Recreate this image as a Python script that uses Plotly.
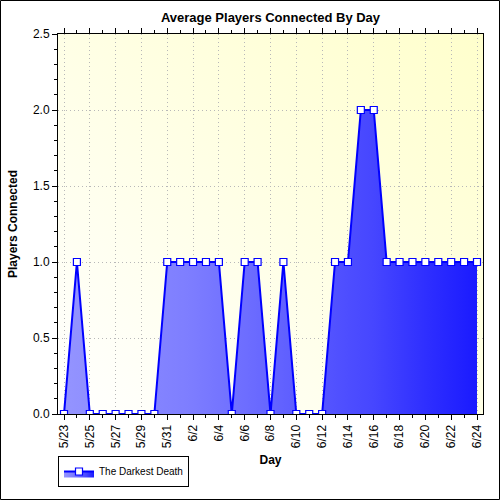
import base64
import plotly.graph_objects as go

days = ["2010-05-23", "2010-05-24", "2010-05-25", "2010-05-26", "2010-05-27", "2010-05-28",
        "2010-05-29", "2010-05-30", "2010-05-31", "2010-06-01", "2010-06-02", "2010-06-03",
        "2010-06-04", "2010-06-05", "2010-06-06", "2010-06-07", "2010-06-08", "2010-06-09",
        "2010-06-10", "2010-06-11", "2010-06-12", "2010-06-13", "2010-06-14", "2010-06-15",
        "2010-06-16", "2010-06-17", "2010-06-18", "2010-06-19", "2010-06-20", "2010-06-21",
        "2010-06-22", "2010-06-23", "2010-06-24"]
players = [0, 1, 0, 0, 0, 0, 0, 0, 1, 1, 1, 1, 1, 0, 1, 1, 0, 1, 0, 0, 0, 1, 1, 2, 2,
           1, 1, 1, 1, 1, 1, 1, 1]
series_name = "The Darkest Death"

FONT = "Liberation Sans, Arial, sans-serif"
xrange = ["2010-05-22 12:50", "2010-06-24 11:10"]
yrange = [0, 2.5]
DAY = 86400000

fill_scale = [[0, "#9494ff"], [0.3, "#7e7eff"], [0.45, "#6c6cff"], [0.6, "#5858ff"],
              [0.75, "#4646ff"], [0.88, "#2e2eff"], [1, "#1a1aff"]]

svg = ('<svg xmlns="http://www.w3.org/2000/svg" width="100" height="100" preserveAspectRatio="none">'
       '<defs><linearGradient id="g" x1="0" y1="1" x2="1" y2="0">'
       '<stop offset="0" stop-color="#ffffff"/><stop offset="1" stop-color="#ffffcc"/>'
       '</linearGradient></defs><rect width="100" height="100" fill="url(#g)"/></svg>')
bg_uri = "data:image/svg+xml;base64," + base64.b64encode(svg.encode()).decode()

fig = go.Figure()
fig.add_trace(go.Scatter(
    x=days, y=players, name=series_name, mode="lines+markers",
    fill="tozeroy",
    fillgradient=dict(type="horizontal", colorscale=fill_scale),
    line=dict(color="#0000ff", width=2),
    marker=dict(symbol="square", size=7, color="white", line=dict(color="#0000ff", width=1.2)),
))

GRID_DASH = "1px,3px"

fig.update_layout(
    width=500, height=500,
    margin=dict(l=58, r=17, t=34, b=86),
    paper_bgcolor="white",
    plot_bgcolor="rgba(0,0,0,0)",
    font=dict(family=FONT, size=12, color="black"),
    title=dict(text="<b>Average Players Connected By Day</b>", x=0.541, xanchor="center",
               y=1 - 17 / 500, yanchor="middle", font=dict(size=13, family=FONT)),
    showlegend=True,
    legend=dict(x=0, xanchor="left", y=-(487 - 414) / 380, yanchor="bottom",
                bordercolor="black", borderwidth=1, bgcolor="white",
                font=dict(size=10, family=FONT), itemwidth=30,
                tracegroupgap=0),
    xaxis=dict(
        type="date", range=xrange, tick0="2010-05-23", dtick=2 * DAY,
        tickformat="%-m/%-d", tickangle=-90,
        ticks="outside", ticklen=5, tickcolor="black",
        minor=dict(dtick=DAY, ticks="outside", ticklen=3, tickcolor="black", showgrid=False),
        showline=True, linecolor="black", linewidth=1, mirror="ticks",
        showgrid=True, gridcolor="#b8b8b8", griddash=GRID_DASH, gridwidth=1,
        title=dict(text="<b>Day</b>", font=dict(size=12), standoff=8),
        zeroline=False, automargin=False,
    ),
    yaxis=dict(
        range=yrange, dtick=0.5, tickformat=".1f",
        ticks="outside", ticklen=5, tickcolor="black",
        minor=dict(dtick=0.1, ticks="outside", ticklen=3, tickcolor="black", showgrid=False),
        showline=True, linecolor="black", linewidth=1, mirror=True,
        showgrid=True, gridcolor="#b8b8b8", griddash=GRID_DASH, gridwidth=1,
        title=dict(text="<b>Players Connected</b>", font=dict(size=12), standoff=12),
        zeroline=False, automargin=False,
    ),
    yaxis2=dict(
        overlaying="y", side="right", anchor="x", range=yrange, dtick=0.5,
        ticks="inside", ticklen=5, tickcolor="black",
        minor=dict(dtick=0.1, ticks="inside", ticklen=3, tickcolor="black"),
        showticklabels=False, showgrid=False, showline=False, zeroline=False,
        automargin=False,
    ),
    images=[dict(source=bg_uri, xref="paper", yref="paper", x=0, y=1, sizex=1, sizey=1,
                 sizing="stretch", xanchor="left", yanchor="top", layer="below")],
    shapes=[dict(type="rect", xref="paper", yref="paper",
                 x0=-57.5 / 425, x1=1 + 16.5 / 425, y0=-85.5 / 380, y1=1 + 33.5 / 380,
                 line=dict(color="black", width=1), fillcolor="rgba(0,0,0,0)", layer="above")],
)

fig.write_html("out.html", config={"displayModeBar": False},
               post_script="document.body.style.margin='0';document.body.style.padding='0';")
